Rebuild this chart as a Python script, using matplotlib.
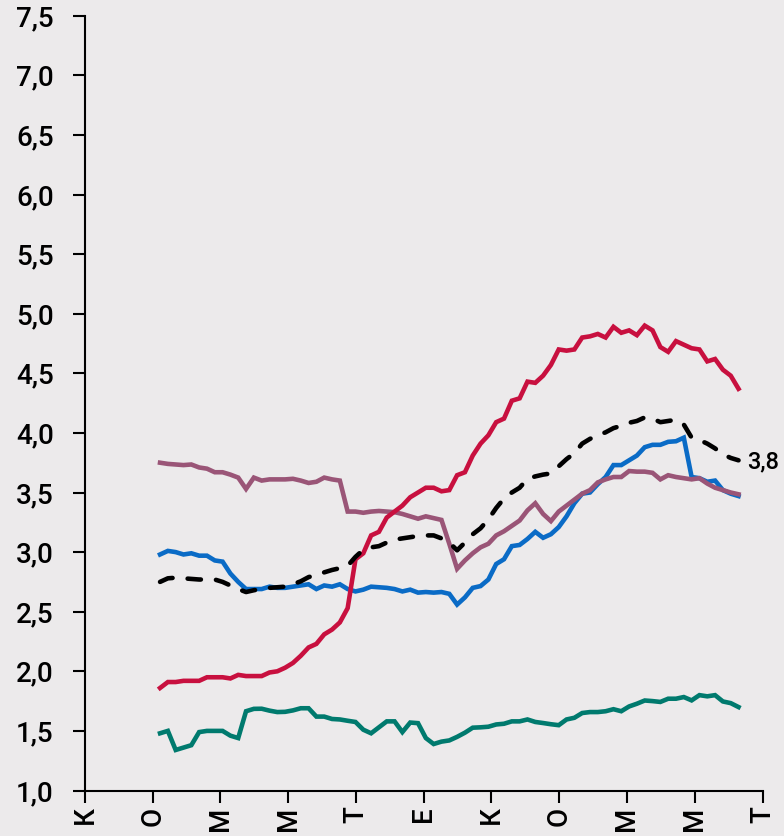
import numpy as np
import matplotlib
matplotlib.use("Agg")
import matplotlib.pyplot as plt

plt.rcParams['font.family'] = ['Roboto', 'DejaVu Sans']
plt.rcParams['font.weight'] = 'medium'

# weekly series, x ticks every two months
start_week = 9.6
tick_labels = ['К', 'О', 'М', 'М', 'Т', 'Е', 'К', 'О', 'М', 'М', 'Т']

red = [1.86, 1.91, 1.91, 1.92, 1.92, 1.92, 1.95, 1.95, 1.95, 1.94,
       1.97, 1.96, 1.96, 1.96, 1.99, 2.00, 2.03, 2.07, 2.13, 2.20,
       2.23, 2.31, 2.35, 2.41, 2.53, 2.94, 2.99, 3.14, 3.17, 3.29,
       3.34, 3.39, 3.46, 3.50, 3.54, 3.54, 3.51, 3.52, 3.645, 3.67,
       3.81, 3.91, 3.98, 4.09, 4.12, 4.27, 4.29, 4.43, 4.42, 4.48,
       4.57, 4.70, 4.69, 4.70, 4.80, 4.81, 4.83, 4.80, 4.89, 4.84,
       4.86, 4.82, 4.90, 4.86, 4.72, 4.68, 4.77, 4.74, 4.71, 4.70,
       4.60, 4.62, 4.53, 4.48, 4.37]

blue = [2.98, 3.01, 3.00, 2.98, 2.99, 2.97, 2.97, 2.93, 2.92, 2.82,
        2.75, 2.69, 2.69, 2.69, 2.71, 2.70, 2.70, 2.71, 2.72, 2.73,
        2.69, 2.72, 2.71, 2.73, 2.69, 2.67, 2.685, 2.71, 2.705, 2.70,
        2.69, 2.67, 2.685, 2.66, 2.665, 2.66, 2.665, 2.65, 2.56, 2.62,
        2.70, 2.715, 2.77, 2.90, 2.94, 3.05, 3.06, 3.11, 3.17, 3.12,
        3.15, 3.21, 3.30, 3.41, 3.49, 3.50, 3.57, 3.63, 3.73, 3.73,
        3.77, 3.81, 3.88, 3.90, 3.90, 3.925, 3.93, 3.96, 3.63, 3.62,
        3.59, 3.60, 3.52, 3.49, 3.47]

mauve = [3.75, 3.74, 3.735, 3.73, 3.735, 3.71, 3.70, 3.67, 3.67, 3.65,
         3.625, 3.53, 3.625, 3.60, 3.61, 3.61, 3.61, 3.615, 3.60, 3.58,
         3.59, 3.625, 3.61, 3.60, 3.34, 3.34, 3.33, 3.34, 3.345, 3.34,
         3.335, 3.32, 3.30, 3.28, 3.30, 3.285, 3.27, 3.07, 2.86, 2.93,
         2.99, 3.04, 3.07, 3.14, 3.175, 3.22, 3.265, 3.35, 3.41, 3.32,
         3.26, 3.34, 3.39, 3.44, 3.49, 3.52, 3.585, 3.61, 3.63, 3.63,
         3.68, 3.675, 3.675, 3.665, 3.61, 3.645, 3.63, 3.62, 3.61, 3.62,
         3.575, 3.54, 3.52, 3.50, 3.485]

teal = [1.48, 1.50, 1.34, 1.36, 1.38, 1.49, 1.50, 1.50, 1.50, 1.46,
        1.44, 1.665, 1.685, 1.686, 1.67, 1.658, 1.66, 1.672, 1.69, 1.69,
        1.62, 1.62, 1.60, 1.596, 1.585, 1.575, 1.51, 1.48, 1.53, 1.58,
        1.58, 1.49, 1.57, 1.565, 1.44, 1.39, 1.41, 1.42, 1.45, 1.485,
        1.527, 1.53, 1.535, 1.554, 1.56, 1.58, 1.58, 1.596, 1.575, 1.566,
        1.556, 1.548, 1.596, 1.61, 1.65, 1.658, 1.658, 1.665, 1.682, 1.665,
        1.705, 1.728, 1.755, 1.75, 1.743, 1.77, 1.77, 1.784, 1.756, 1.80,
        1.79, 1.80, 1.747, 1.733, 1.70]

avg = [2.75, 2.78, 2.785, 2.78, 2.775, 2.77, 2.77, 2.77, 2.75, 2.72,
       2.69, 2.665, 2.68, 2.69, 2.70, 2.705, 2.71, 2.73, 2.755, 2.79,
       2.81, 2.83, 2.85, 2.865, 2.885, 2.96, 3.02, 3.04, 3.05, 3.08,
       3.105, 3.115, 3.125, 3.135, 3.14, 3.14, 3.115, 3.08, 3.015, 3.08,
       3.15, 3.20, 3.275, 3.37, 3.45, 3.50, 3.54, 3.615, 3.635, 3.65,
       3.66, 3.72, 3.78, 3.83, 3.91, 3.95, 3.98, 4.005, 4.04, 4.06,
       4.085, 4.10, 4.13, 4.12, 4.09, 4.10, 4.11, 4.07, 3.96, 3.94,
       3.91, 3.87, 3.82, 3.79, 3.77]
end_label = '3,8'

weeks = start_week + np.arange(len(red))
tick_pos = np.arange(len(tick_labels)) * 52 / 6

bg = '#ECEAEB'
fig = plt.figure(figsize=(7.84, 8.36), dpi=100, facecolor=bg)
ax = fig.add_axes([85/784, 1 - 790.5/836, (762.5 - 85)/784, (790.5 - 15.7)/836])
ax.set_facecolor(bg)

lw = 3.3
ax.plot(weeks, teal, color='#007A6E', lw=lw, solid_joinstyle='miter')
ax.plot(weeks, blue, color='#0A6BC6', lw=lw, solid_joinstyle='miter')
ax.plot(weeks, mauve, color='#9A5577', lw=lw, solid_joinstyle='miter')
ax.plot(weeks, red, color='#C8103F', lw=lw, solid_joinstyle='miter')
ax.plot(weeks, avg, color='black', lw=3.3, ls=(0, (2.9, 3.3)),
        dash_capstyle='round')

ax.annotate(end_label, (weeks[-1], avg[-1]), xytext=(6.5, -1),
            textcoords='offset points', va='center', ha='left', fontsize=17)

yt = np.arange(1.0, 7.51, 0.5)
ax.set_xlim(0, tick_pos[-1])
ax.set_ylim(1.0, 7.5)
ax.set_yticks(yt)
ax.set_yticklabels([f'{v:.1f}'.replace('.', ',') for v in yt], fontsize=20)
ax.set_xticks(tick_pos)
ax.set_xticklabels(tick_labels, rotation=90, fontsize=20)

for s in ['top', 'right']:
    ax.spines[s].set_visible(False)
for s in ['left', 'bottom']:
    ax.spines[s].set_linewidth(1.5)
ax.tick_params(axis='both', width=1.5, length=8.5, color='black')
ax.tick_params(axis='y', pad=14)
ax.tick_params(axis='x', pad=3)

fig.savefig('out.png', dpi=100, facecolor=bg)
